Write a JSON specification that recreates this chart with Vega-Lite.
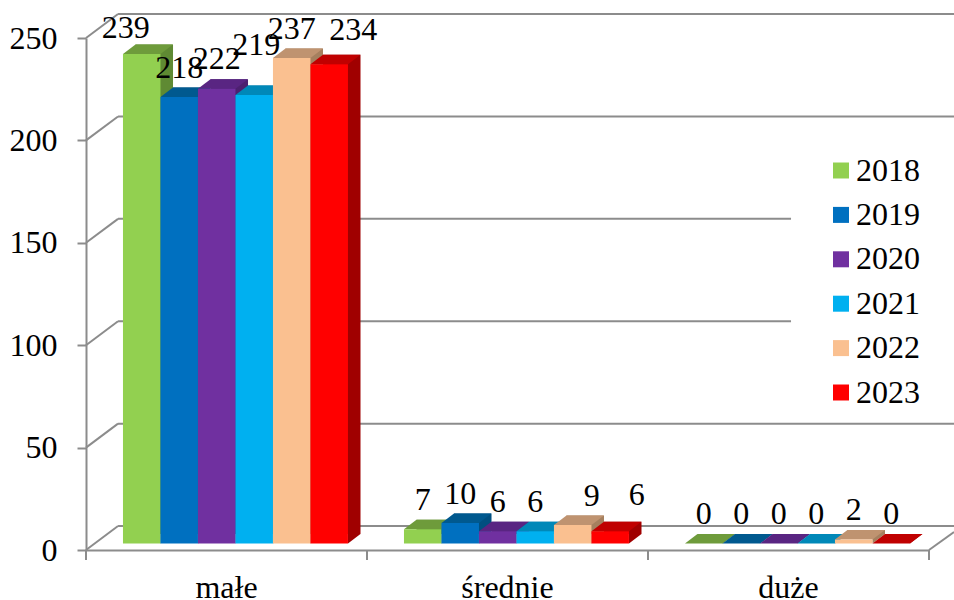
{"$schema":"https://vega.github.io/schema/vega-lite/v6.json","width":843,"height":512,"autosize":{"type":"none"},"padding":{"left":86,"top":38,"right":25,"bottom":50},"background":"white","config":{"view":{"stroke":null},"font":"Liberation Serif"},"datasets":{"bars":[{"cat":"małe","year":"2018","value":239},{"cat":"małe","year":"2019","value":218},{"cat":"małe","year":"2020","value":222},{"cat":"małe","year":"2021","value":219},{"cat":"małe","year":"2022","value":237},{"cat":"małe","year":"2023","value":234},{"cat":"średnie","year":"2018","value":7},{"cat":"średnie","year":"2019","value":10},{"cat":"średnie","year":"2020","value":6},{"cat":"średnie","year":"2021","value":6},{"cat":"średnie","year":"2022","value":9},{"cat":"średnie","year":"2023","value":6},{"cat":"duże","year":"2018","value":0},{"cat":"duże","year":"2019","value":0},{"cat":"duże","year":"2020","value":0},{"cat":"duże","year":"2021","value":0},{"cat":"duże","year":"2022","value":2},{"cat":"duże","year":"2023","value":0}],"frame":[{"x0":0.114,"x1":3.089,"y0":11.7,"y1":11.7},{"x0":0.114,"x1":3.089,"y0":61.7,"y1":61.7},{"x0":0.114,"x1":2.509,"y0":111.7,"y1":111.7},{"x0":0.114,"x1":2.509,"y0":161.7,"y1":161.7},{"x0":0.114,"x1":3.089,"y0":211.7,"y1":211.7},{"x0":0.114,"x1":3.089,"y0":261.7,"y1":261.7},{"x0":0,"x1":0.114,"y0":0,"y1":11.7},{"x0":0,"x1":0.114,"y0":50,"y1":61.7},{"x0":0,"x1":0.114,"y0":100,"y1":111.7},{"x0":0,"x1":0.114,"y0":150,"y1":161.7},{"x0":0,"x1":0.114,"y0":200,"y1":211.7},{"x0":0,"x1":0.114,"y0":250,"y1":261.7},{"x0":3,"x1":3.089,"y0":0,"y1":8.8},{"x0":0,"x1":0,"y0":0,"y1":-4.9},{"x0":1,"x1":1,"y0":0,"y1":-4.9},{"x0":2,"x1":2,"y0":0,"y1":-4.9},{"x0":3,"x1":3,"y0":0,"y1":-4.9}]},"resolve":{"scale":{"x":"independent","xOffset":"independent","color":"independent"},"axis":{"y":"independent","x":"independent"}},"layer":[{"data":{"name":"frame"},"mark":{"type":"rule","color":"#8c8c8c","strokeWidth":2,"clip":false},"encoding":{"x":{"field":"x0","type":"quantitative","axis":null,"scale":{"domain":[0,3],"nice":false,"zero":false}},"x2":{"field":"x1"},"y":{"field":"y0","type":"quantitative","axis":null,"scale":{"domain":[0,250],"nice":false}},"y2":{"field":"y1"}}},{"data":{"name":"bars"},"mark":{"type":"bar","yOffset":-16,"y2Offset":-16},"encoding":{"x":{"field":"cat","type":"nominal","axis":null,"scale":{"domain":["małe","średnie","duże"],"paddingInner":0,"paddingOuter":0}},"xOffset":{"field":"year","type":"nominal","scale":{"paddingInner":0,"paddingOuter":0.747,"align":0.884}},"y":{"field":"value","type":"quantitative","stack":null,"axis":null},"y2":{"datum":0},"color":{"field":"year","type":"nominal","legend":null,"scale":{"range":["#5f8a33","#004f80","#4d2070","#0077a5","#a5805f","#a00000"]}}}},{"data":{"name":"bars"},"resolve":{"scale":{"color":"independent"}},"encoding":{"x":{"field":"cat","type":"nominal","scale":{"domain":["małe","średnie","duże"],"paddingInner":0,"paddingOuter":0},"axis":{"title":null,"labelAngle":0,"ticks":false,"domain":true,"domainColor":"#8c8c8c","domainWidth":2,"labelFontSize":32,"labelFont":"Liberation Serif","labelColor":"black","labelPadding":22,"grid":false}},"xOffset":{"field":"year","type":"nominal","scale":{"paddingInner":0,"paddingOuter":0.747,"align":0.66}}},"layer":[{"mark":{"type":"point","filled":true,"opacity":1,"size":4,"shape":"M18.75,0L31.25,-9.5L18.75,-9.5Z","yOffset":-6.5},"encoding":{"y":{"datum":0,"type":"quantitative","scale":{"domain":[0,250],"nice":false},"axis":{"title":null,"values":[0,50,100,150,200,250],"grid":false,"domainColor":"#8c8c8c","domainWidth":2,"tickColor":"#8c8c8c","tickWidth":2,"tickSize":9,"labelFontSize":32,"labelFont":"Liberation Serif","labelColor":"black","labelPadding":20}},"color":{"field":"year","type":"nominal","legend":null,"scale":{"range":["#5f8a33","#004f80","#4d2070","#0077a5","#a5805f","#a00000"]}}}},{"mark":{"type":"point","filled":true,"opacity":1,"size":4,"shape":"M-18.75,0L18.75,0L31.25,-9.5L-6.25,-9.5Z","yOffset":-6.5},"encoding":{"y":{"field":"value","type":"quantitative"},"color":{"field":"year","type":"nominal","legend":null,"scale":{"range":["#6e9b3b","#00598f","#592582","#0088b8","#bf9370","#c00000"]}}}},{"mark":{"type":"bar","yOffset":-6.5,"y2Offset":-6.5},"encoding":{"y":{"field":"value","type":"quantitative","stack":null},"y2":{"datum":0},"color":{"field":"year","type":"nominal","scale":{"domain":["2018","2019","2020","2021","2022","2023"],"range":["#92d050","#0070c0","#7030a0","#00b0f0","#fac090","#ff0000"]},"legend":{"title":null,"orient":"none","legendX":739,"legendY":116.5,"padding":0,"symbolType":"square","symbolSize":256,"symbolStrokeWidth":0,"symbolOpacity":1,"labelFontSize":32,"labelFont":"Liberation Serif","labelColor":"black","labelOffset":-1,"rowPadding":12.4,"labelLimit":200}}}},{"transform":[{"filter":"!((datum.cat=='małe'&&(datum.year=='2018'||datum.year=='2021'||datum.year=='2023'))||(datum.cat=='średnie'&&(datum.year=='2022'||datum.year=='2023')))"}],"mark":{"type":"text","fontSize":32,"baseline":"middle","dy":-36,"color":"black"},"encoding":{"y":{"field":"value","type":"quantitative"},"text":{"field":"value","type":"quantitative"}}},{"transform":[{"filter":"datum.cat=='małe'&&datum.year=='2018'"}],"mark":{"type":"text","fontSize":32,"baseline":"middle","dx":-16,"dy":-33,"color":"black"},"encoding":{"y":{"field":"value","type":"quantitative"},"text":{"field":"value","type":"quantitative"}}},{"transform":[{"filter":"datum.cat=='małe'&&datum.year=='2021'"}],"mark":{"type":"text","fontSize":32,"baseline":"middle","dx":2,"dy":-56,"color":"black"},"encoding":{"y":{"field":"value","type":"quantitative"},"text":{"field":"value","type":"quantitative"}}},{"transform":[{"filter":"datum.cat=='małe'&&datum.year=='2023'"}],"mark":{"type":"text","fontSize":32,"baseline":"middle","dx":24,"dy":-41,"color":"black"},"encoding":{"y":{"field":"value","type":"quantitative"},"text":{"field":"value","type":"quantitative"}}},{"transform":[{"filter":"datum.cat=='średnie'&&datum.year=='2022'"}],"mark":{"type":"text","fontSize":32,"baseline":"middle","dx":19,"dy":-36,"color":"black"},"encoding":{"y":{"field":"value","type":"quantitative"},"text":{"field":"value","type":"quantitative"}}},{"transform":[{"filter":"datum.cat=='średnie'&&datum.year=='2023'"}],"mark":{"type":"text","fontSize":32,"baseline":"middle","dx":26.5,"dy":-43,"color":"black"},"encoding":{"y":{"field":"value","type":"quantitative"},"text":{"field":"value","type":"quantitative"}}}]}]}
